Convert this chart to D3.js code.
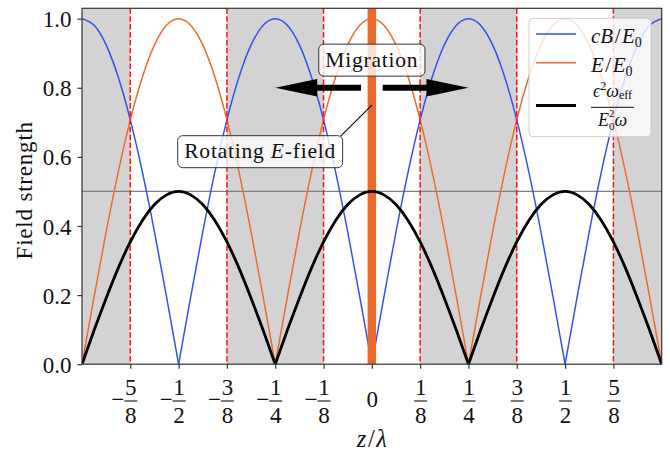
<!DOCTYPE html>
<html>
<head>
<meta charset="utf-8">
<script src="https://cdn.jsdelivr.net/npm/d3@7"></script>
<style>
  html, body { margin: 0; padding: 0; background: #fff; }
  svg { display: block; }
  svg text { font-family: 'Liberation Serif', 'Times New Roman', 'DejaVu Serif', serif; }
</style>
</head>
<body>
<svg id="chart" width="670" height="453"></svg>
<script>
// Sample positions along z/λ: -3/4 … 3/4 in steps of 1/32
const zSamples = d3.range(-24, 25).map(k => k / 32);

// Magnetic field amplitude cB/E0 at each sample
const magneticField = [
  1.000, 0.981, 0.924, 0.831, 0.707, 0.556, 0.383, 0.195,
  0.000, 0.195, 0.383, 0.556, 0.707, 0.831, 0.924, 0.981,
  1.000, 0.981, 0.924, 0.831, 0.707, 0.556, 0.383, 0.195,
  0.000, 0.195, 0.383, 0.556, 0.707, 0.831, 0.924, 0.981,
  1.000, 0.981, 0.924, 0.831, 0.707, 0.556, 0.383, 0.195,
  0.000, 0.195, 0.383, 0.556, 0.707, 0.831, 0.924, 0.981,
  1.000
];

// Electric field amplitude E/E0 at each sample
const electricField = [
  0.000, 0.195, 0.383, 0.556, 0.707, 0.831, 0.924, 0.981,
  1.000, 0.981, 0.924, 0.831, 0.707, 0.556, 0.383, 0.195,
  0.000, 0.195, 0.383, 0.556, 0.707, 0.831, 0.924, 0.981,
  1.000, 0.981, 0.924, 0.831, 0.707, 0.556, 0.383, 0.195,
  0.000, 0.195, 0.383, 0.556, 0.707, 0.831, 0.924, 0.981,
  1.000, 0.981, 0.924, 0.831, 0.707, 0.556, 0.383, 0.195,
  0.000
];

// Effective frequency ε²ω_eff / (E0²ω) at each sample
const effectiveFrequency = [
  0.000, 0.098, 0.191, 0.278, 0.354, 0.416, 0.462, 0.490,
  0.500, 0.490, 0.462, 0.416, 0.354, 0.278, 0.191, 0.098,
  0.000, 0.098, 0.191, 0.278, 0.354, 0.416, 0.462, 0.490,
  0.500, 0.490, 0.462, 0.416, 0.354, 0.278, 0.191, 0.098,
  0.000, 0.098, 0.191, 0.278, 0.354, 0.416, 0.462, 0.490,
  0.500, 0.490, 0.462, 0.416, 0.354, 0.278, 0.191, 0.098,
  0.000
];

// Regions where the magnetic field dominates (cB > E)
const magneticBands = [[-0.75, -0.625], [-0.375, -0.125], [0.125, 0.375], [0.625, 0.75]];
// Positions where cB = E
const crossingPositions = [-0.625, -0.375, -0.125, 0.125, 0.375, 0.625];
// Reference level
const thresholdLevel = 0.5;
// Source position
const sourcePosition = 0;
// Migration arrows: start and end in z/λ, at a fixed height
const migrationArrows = [
  { from: -0.028, to: -0.25, level: 0.8 },
  { from: 0.028, to: 0.25, level: 0.8 }
];

// Axis ticks
const xTickValues = [-0.625, -0.5, -0.375, -0.25, -0.125, 0, 0.125, 0.25, 0.375, 0.5, 0.625];
const xTickLabels = ["-5/8", "-1/2", "-3/8", "-1/4", "-1/8", "0", "1/8", "1/4", "3/8", "1/2", "5/8"];
const yTickValues = [0, 0.2, 0.4, 0.6, 0.8, 1.0];
const yTickLabels = ["0.0", "0.2", "0.4", "0.6", "0.8", "1.0"];

const FONT = "'Liberation Serif', 'Times New Roman', 'DejaVu Serif', serif";

const colors = {
  magnetic: "#3152f2",
  electric: "#ee6b2d",
  frequency: "#000000",
  source: "#ea6a2c",
  band: "#d3d3d3",
  crossing: "#ff1010",
  threshold: "#808080",
  frame: "#333333",
  text: "#111111"
};

const svg = d3.select("#chart").attr("font-family", FONT);
const plot = { left: 82, right: 661.7, top: 8.3, bottom: 364.2 };

const x = d3.scaleLinear().domain([-0.75, 0.75]).range([plot.left, plot.right]);
const y = d3.scaleLinear().domain([0, 1.03]).range([plot.bottom, plot.top]);

svg.append("defs").append("clipPath").attr("id", "plot-clip")
  .append("rect")
  .attr("x", plot.left).attr("y", plot.top)
  .attr("width", plot.right - plot.left).attr("height", plot.bottom - plot.top);

const body = svg.append("g").attr("clip-path", "url(#plot-clip)");

// Shaded magnetic-dominated regions
body.selectAll("rect.band").data(magneticBands).join("rect")
  .attr("class", "band")
  .attr("x", d => x(d[0]))
  .attr("width", d => x(d[1]) - x(d[0]))
  .attr("y", plot.top)
  .attr("height", plot.bottom - plot.top)
  .attr("fill", colors.band);

// Horizontal reference line
body.append("line")
  .attr("x1", plot.left).attr("x2", plot.right)
  .attr("y1", y(thresholdLevel)).attr("y2", y(thresholdLevel))
  .attr("stroke", colors.threshold).attr("stroke-width", 1.3);

// Split a sampled series into arches between its zeros so the cusps stay sharp
function arches(values) {
  const pts = zSamples.map((z, i) => ({ z, v: values[i] }));
  const segs = [];
  let cur = [];
  pts.forEach(p => {
    cur.push(p);
    if (p.v === 0 && cur.length > 1) {
      segs.push(cur);
      cur = [p];
    }
  });
  if (cur.length > 1) segs.push(cur);
  return segs;
}

const line = d3.line().x(d => x(d.z)).y(d => y(d.v)).curve(d3.curveNatural);

function drawSeries(values, color, width) {
  body.append("g").selectAll("path").data(arches(values)).join("path")
    .attr("d", line)
    .attr("fill", "none")
    .attr("stroke", color)
    .attr("stroke-width", width)
    .attr("stroke-linejoin", "round");
}

drawSeries(magneticField, colors.magnetic, 1.5);
drawSeries(electricField, colors.electric, 1.5);

// Dashed markers at the crossing points
body.selectAll("line.cross").data(crossingPositions).join("line")
  .attr("class", "cross")
  .attr("x1", d => x(d)).attr("x2", d => x(d))
  .attr("y1", plot.top).attr("y2", plot.bottom)
  .attr("stroke", colors.crossing)
  .attr("stroke-width", 1.5)
  .attr("stroke-dasharray", "5.5,2.4");

// Source position
body.append("line")
  .attr("x1", x(sourcePosition)).attr("x2", x(sourcePosition))
  .attr("y1", plot.top).attr("y2", plot.bottom)
  .attr("stroke", colors.source).attr("stroke-width", 8.5);

drawSeries(effectiveFrequency, colors.frequency, 2.8);

// Axes
const yAxis = d3.axisLeft(y)
  .tickValues(yTickValues)
  .tickFormat((d, i) => yTickLabels[i])
  .tickSize(4.5).tickPadding(6);
const yg = svg.append("g").attr("transform", `translate(${plot.left},0)`).call(yAxis)
  .attr("font-family", FONT);
yg.select(".domain").remove();
yg.selectAll(".tick line").attr("stroke", colors.frame).attr("stroke-width", 1.2);
yg.selectAll(".tick text")
  .attr("font-family", FONT)
  .attr("font-size", 23).attr("fill", colors.text)
  .attr("dy", "0.35em");

const xAxis = d3.axisBottom(x)
  .tickValues(xTickValues)
  .tickFormat("")
  .tickSize(4.5);
const xg = svg.append("g").attr("transform", `translate(0,${plot.bottom})`).call(xAxis)
  .attr("font-family", FONT);
xg.select(".domain").remove();
xg.selectAll(".tick line").attr("stroke", colors.frame).attr("stroke-width", 1.2);
xg.selectAll(".tick text").remove();
xg.selectAll(".tick").each(function (d, i) {
  const label = xTickLabels[i];
  const t = d3.select(this);
  const fs = 23;
  if (!label.includes("/")) {
    t.append("text").attr("x", 0).attr("y", 42.5).attr("text-anchor", "middle")
      .attr("font-size", fs).attr("fill", colors.text).text(label);
    return;
  }
  const neg = label.startsWith("-");
  const [num, den] = label.replace("-", "").split("/");
  // numerator and denominator as two centred chunks of one text
  const frac = t.append("text").attr("text-anchor", "middle")
    .attr("font-size", fs).attr("fill", colors.text);
  frac.append("tspan").attr("x", 0).attr("y", 31).text(num);
  frac.append("tspan").attr("x", 0).attr("y", 59.3).text(den);
  t.append("line").attr("x1", -6.5).attr("x2", 6.5).attr("y1", 36.8).attr("y2", 36.8)
    .attr("stroke", colors.text).attr("stroke-width", 1.1);
  if (neg) {
    t.append("text").attr("x", -6.5).attr("y", 43).attr("text-anchor", "end")
      .attr("font-size", fs).attr("fill", colors.text).text("\u2212");
  }
});

// Frame
svg.append("rect")
  .attr("x", plot.left).attr("y", plot.top)
  .attr("width", plot.right - plot.left).attr("height", plot.bottom - plot.top)
  .attr("fill", "none").attr("stroke", colors.frame).attr("stroke-width", 1.2);

// Axis titles
svg.append("text")
  .attr("transform", `translate(32,${(plot.top + plot.bottom) / 2 + 4}) rotate(-90)`)
  .attr("text-anchor", "middle")
  .attr("font-size", 23).attr("letter-spacing", 0.8).attr("fill", colors.text)
  .text("Field strength");

const xTitle = svg.append("text")
  .attr("x", x(0)).attr("y", 447)
  .attr("text-anchor", "middle")
  .attr("font-size", 24.5).attr("fill", colors.text);
xTitle.append("tspan").attr("font-style", "italic").text("z");
xTitle.append("tspan").attr("dx", 1.5).text("/");
xTitle.append("tspan").attr("font-style", "italic").attr("dx", 1.5).text("λ");

// Migration arrows
const arrowGroup = svg.append("g");
migrationArrows.forEach(a => {
  const x0 = x(a.from), x1 = x(a.to), yy = y(a.level);
  const dir = Math.sign(x1 - x0);
  const headLen = 42, headHalf = 8.8, shaftHalf = 3;
  const xb = x1 - dir * headLen;
  const p = d3.path();
  p.moveTo(x0, yy - shaftHalf);
  p.lineTo(xb, yy - shaftHalf);
  p.lineTo(xb, yy - headHalf);
  p.lineTo(x1, yy);
  p.lineTo(xb, yy + headHalf);
  p.lineTo(xb, yy + shaftHalf);
  p.lineTo(x0, yy + shaftHalf);
  p.closePath();
  arrowGroup.append("path").attr("d", p.toString()).attr("fill", "#000");
});

// Annotation boxes
function annotate(cx, cy, parts) {
  const g = svg.append("g");
  const rect = g.append("rect");
  const txt = g.append("text")
    .attr("x", cx).attr("y", cy + 6.6)
    .attr("text-anchor", "middle")
    .attr("font-size", 21.5).attr("letter-spacing", 0.8).attr("fill", colors.text);
  parts.forEach(pt => {
    const s = txt.append("tspan").text(pt.t);
    if (pt.italic) s.attr("font-style", "italic");
  });
  const bb = txt.node().getBBox();
  const w = bb.width + 13, h = 32;
  rect.attr("x", cx - w / 2).attr("y", cy - h / 2)
    .attr("width", w).attr("height", h)
    .attr("rx", 5).attr("ry", 5)
    .attr("fill", "#fff").attr("fill-opacity", 0.78)
    .attr("stroke", "#333").attr("stroke-width", 1);
  return { x: cx - w / 2, y: cy - h / 2, w, h };
}

const migrationText = { z: 0, level: 0.88 };
annotate(x(migrationText.z), y(migrationText.level), [{ t: "Migration" }]);

const rotatingText = { z: -0.289, level: 0.615 };
const target = { z: 0, level: 0.75 };
const leader = svg.append("line").attr("stroke", "#000").attr("stroke-width", 1.1);
const rb = annotate(x(rotatingText.z), y(rotatingText.level),
  [{ t: "Rotating " }, { t: "E", italic: true }, { t: "-field" }]);
leader.attr("x1", rb.x + rb.w - 2).attr("y1", rb.y + 0.5)
  .attr("x2", x(target.z)).attr("y2", y(target.level));

// Legend
const legend = svg.append("g");
legend.append("rect")
  .attr("x", 529).attr("y", 18.3).attr("width", 122).attr("height", 118.4)
  .attr("rx", 4).attr("ry", 4)
  .attr("fill", "#fff").attr("fill-opacity", 0.8)
  .attr("stroke", "#cccccc").attr("stroke-width", 1);

const legendRows = [
  { color: colors.magnetic, width: 1.5, y: 34 },
  { color: colors.electric, width: 1.5, y: 62.7 },
  { color: colors.frequency, width: 2.8, y: 105.5 }
];
legend.selectAll("line.key").data(legendRows).join("line")
  .attr("class", "key")
  .attr("x1", 536).attr("x2", 576)
  .attr("y1", d => d.y).attr("y2", d => d.y)
  .attr("stroke", d => d.color).attr("stroke-width", d => d.width);

function ratioLabel(yBase, head) {
  const t = legend.append("text").attr("x", 591).attr("y", yBase)
    .attr("font-size", 21).attr("fill", colors.text);
  head.forEach(pt => {
    const s = t.append("tspan").text(pt);
    if (pt !== "/") s.attr("font-style", "italic"); else s.attr("dx", 1.5);
  });
  t.append("tspan").attr("font-style", "italic").attr("dx", 1.5).text("E");
  t.append("tspan").attr("font-size", 14).attr("dy", 4.5).text("0");
}
ratioLabel(42.5, ["c", "B", "/"]);
ratioLabel(71.5, ["E", "/"]);

// Stacked fraction label: numerator and denominator as two chunks of one text
const fx = 612.5;
const frac = legend.append("text")
  .attr("text-anchor", "middle").attr("font-size", 18).attr("fill", colors.text);
frac.append("tspan").attr("x", fx).attr("y", 97).attr("font-style", "italic").text("\u03F5");
frac.append("tspan").attr("font-size", 12).attr("dy", -7).text("2");
frac.append("tspan").attr("font-style", "italic").attr("dy", 7).text("ω");
frac.append("tspan").attr("font-size", 12).attr("dy", 2).text("eff");
frac.append("tspan").attr("x", fx).attr("y", 126).attr("font-style", "italic").text("E");
frac.append("tspan").attr("font-size", 11).attr("dy", 4).text("0");
frac.append("tspan").attr("font-size", 11).attr("dx", -5.5).attr("dy", -13).text("2");
frac.append("tspan").attr("font-style", "italic").attr("dy", 9).text("ω");
legend.append("line").attr("x1", 591).attr("x2", 634).attr("y1", 107.3).attr("y2", 107.3)
  .attr("stroke", colors.text).attr("stroke-width", 1);
</script>
</body>
</html>
